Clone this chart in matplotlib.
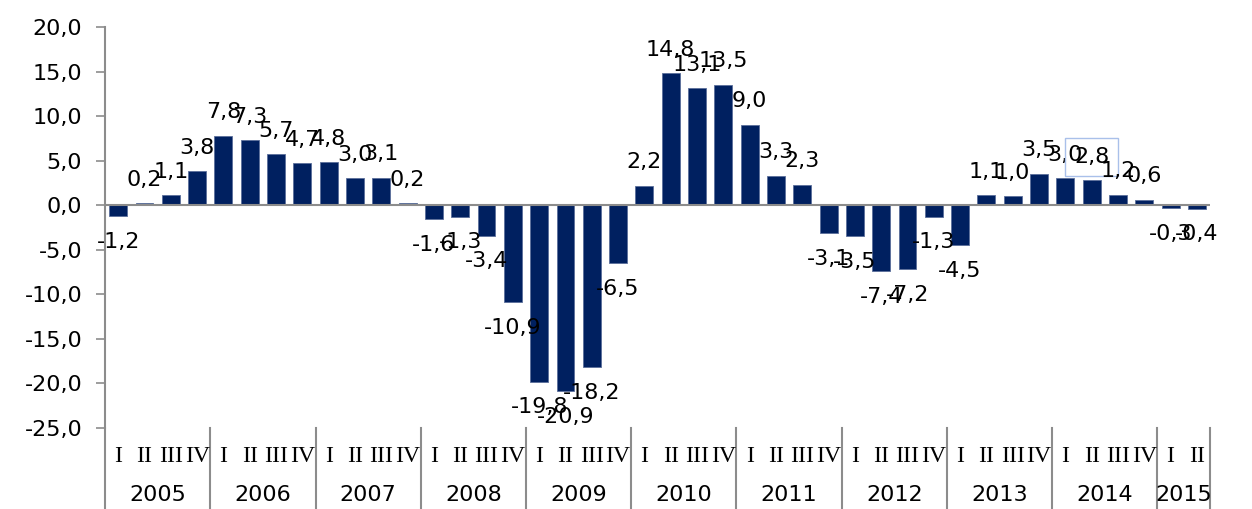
import numpy as np
import matplotlib.pyplot as plt
from matplotlib.ticker import FuncFormatter

years = ["2005", "2006", "2007", "2008", "2009", "2010",
         "2011", "2012", "2013", "2014", "2015"]
quarters_per_year = [4, 4, 4, 4, 4, 4, 4, 4, 4, 4, 2]
quarter_names = ["I", "II", "III", "IV"]
growth = [
    -1.2, 0.2, 1.1, 3.8,
    7.8, 7.3, 5.7, 4.7,
    4.8, 3.0, 3.1, 0.2,
    -1.6, -1.3, -3.4, -10.9,
    -19.8, -20.9, -18.2, -6.5,
    2.2, 14.8, 13.1, 13.5,
    9.0, 3.3, 2.3, -3.1,
    -3.5, -7.4, -7.2, -1.3,
    -4.5, 1.1, 1.0, 3.5,
    3.0, 2.8, 1.2, 0.6,
    -0.3, -0.4,
]
boxed_label = 37  # the "2,8" label has a selection frame in the original

bar_color = "#002060"
axis_color = "#8c8c8c"

fig = plt.figure(figsize=(12.52, 5.09), dpi=100)
ax = fig.add_axes([0.0839, 0.1591, 0.8826, 0.7879])

x = np.arange(len(growth))
ax.bar(x, growth, width=0.68, color=bar_color, edgecolor="#5a6e9a", linewidth=0.6, zorder=2)

ax.set_xlim(-0.5, len(growth) - 0.5)
ax.set_ylim(-25, 20)
ax.set_yticks(np.arange(-25, 21, 5))
ax.yaxis.set_major_formatter(FuncFormatter(lambda v, p: f"{v:.1f}".replace(".", ",")))
ax.tick_params(axis="y", labelsize=16, length=6.5, width=1.2, color=axis_color, pad=10)
ax.set_xticks([])

for s in ["top", "right", "bottom"]:
    ax.spines[s].set_visible(False)
ax.spines["left"].set_color(axis_color)
ax.spines["left"].set_linewidth(1.5)
ax.axhline(0, color=axis_color, linewidth=1.5, zorder=3)

# data labels
for i, v in enumerate(growth):
    off = 17 if v >= 0 else -18.5
    txt = f"{v:.1f}".replace(".", ",")
    kw = {}
    if i == boxed_label:
        kw["bbox"] = dict(boxstyle="square,pad=0.4", facecolor="none",
                          edgecolor="#a9c0ea", linewidth=1.0)
    ax.annotate(txt, (i, v), xytext=(0, off), textcoords="offset points",
                ha="center", va="center", fontsize=16, color="black", **kw)

# two-level category axis
trans = ax.get_xaxis_transform()
q_y = -0.0698
y_y = -0.167
bottom = -0.205
ax.plot([-0.5, -0.5], [0, bottom], transform=trans, color=axis_color,
        linewidth=1.5, clip_on=False)
start = 0
for year, n in zip(years, quarters_per_year):
    for q in range(n):
        ax.text(start + q, q_y, quarter_names[q], transform=trans, ha="center",
                va="center", fontsize=17, family="Liberation Serif")
    ax.text(start + (n - 1) / 2, y_y, year, transform=trans, ha="center",
            va="center", fontsize=16)
    end = start + n - 0.5
    ax.plot([end, end], [0, bottom], transform=trans, color=axis_color,
            linewidth=1.5, clip_on=False)
    start += n

fig.savefig("out.png", dpi=100)
